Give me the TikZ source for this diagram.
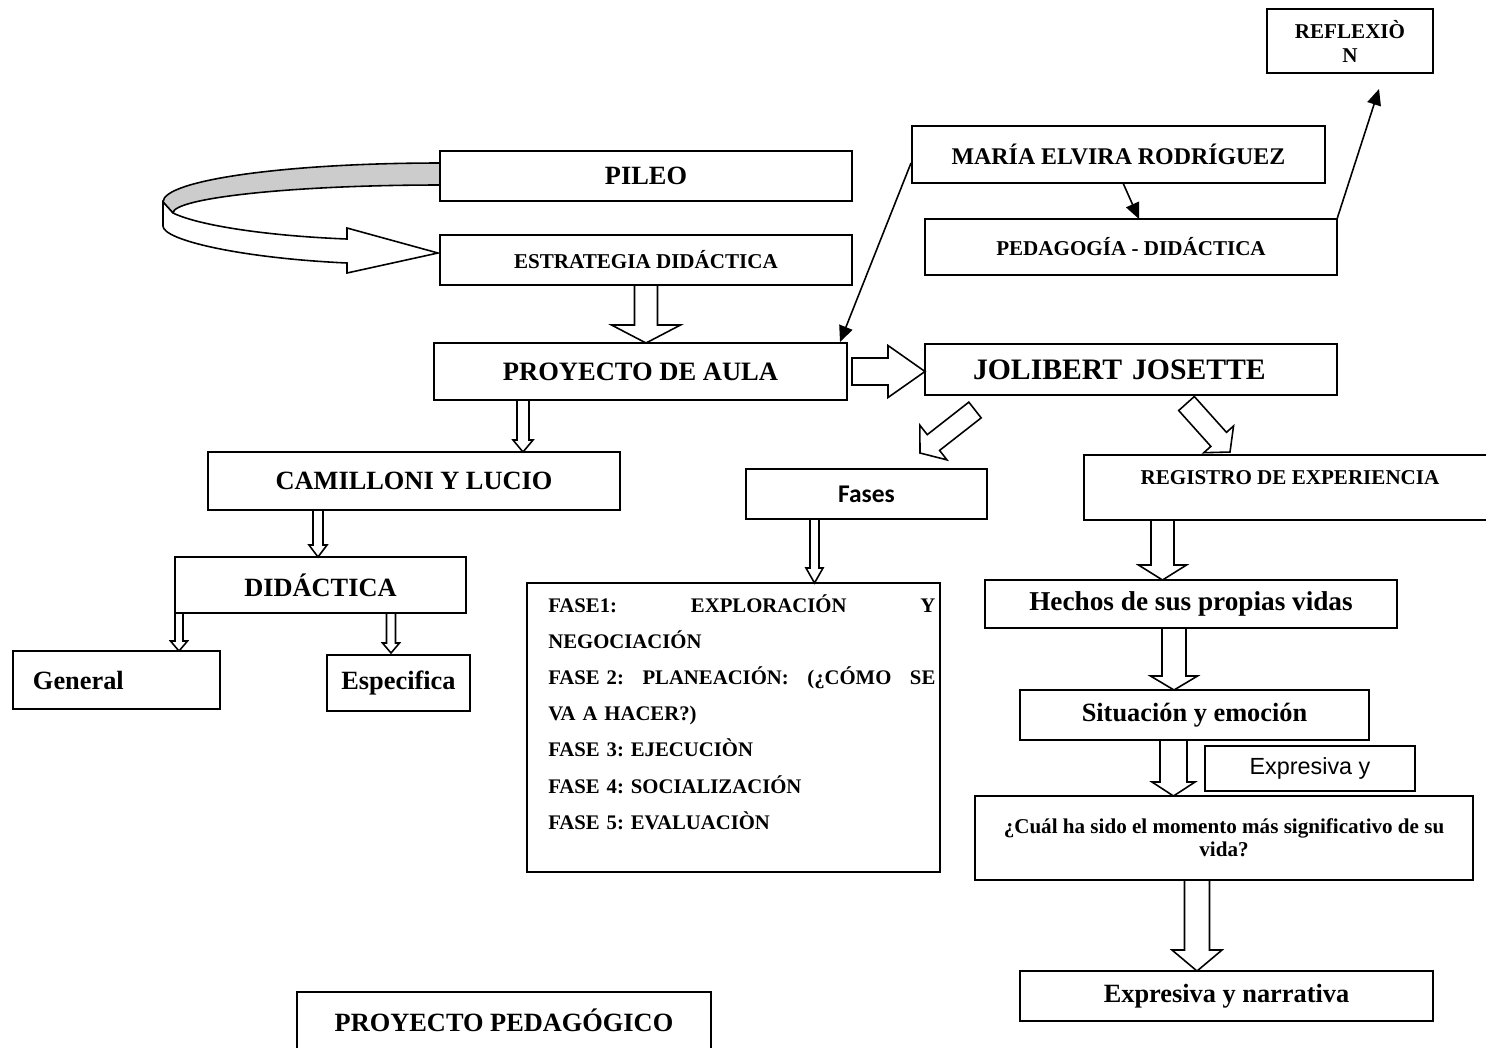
\documentclass[tikz,border=0pt]{standalone}
\usepackage{fontspec}
\setmainfont{Liberation Serif}
\newfontfamily\calfont{Carlito}
\newfontfamily\arialfont{Liberation Sans}
\usetikzlibrary{arrows.meta,calc}
\frenchspacing
\newcommand{\fsz}[2]{\fontsize{#1}{#2}\selectfont\bfseries}
\tikzset{
  box/.style={draw,line width=0.9pt,inner sep=0pt,outer sep=0pt,align=center},
  link/.style={-{Triangle[length=3.2mm,width=2.8mm]},line width=0.9pt},
  blk/.style n args={3}{line width=0.9pt,fill=white,
    to path={let \p1=(\tikztostart),\p2=(\tikztotarget),\p3=($(\p2)!#3!(\p1)$) in
      ($(\p1)!#1!90:(\p2)$) -- ($(\p3)!#1!90:(\p2)$) -- ($(\p3)!#2!90:(\p2)$) -- (\p2)
      -- ($(\p3)!#2!-90:(\p2)$) -- ($(\p3)!#1!-90:(\p2)$) -- ($(\p1)!#1!-90:(\p2)$) -- cycle}}
}
\begin{document}
\begin{tikzpicture}[x=0.2mm,y=-0.2mm]
  \useasboundingbox (0,0) rectangle (1486,1047);
  % top row
  \node[box,minimum width=33.2mm,minimum height=12.8mm,font=\fsz{12}{13.6}] (refl) at (1350,41) {REFLEXIÒ\\N};
  \node[box,minimum width=82.4mm,minimum height=10mm,font=\fsz{15}{17}] (pileo) at (646,176) {PILEO};
  \node[box,minimum width=82.4mm,minimum height=10mm,font=\fsz{12}{14}] (estr) at (646,260) {ESTRATEGIA DIDÁCTICA};
  \node[box,minimum width=82.6mm,minimum height=11.4mm,font=\fsz{13.6}{16}] (mer) at (1118.5,154.5) {MARÍA ELVIRA RODRÍGUEZ};
  \node[box,minimum width=82.4mm,minimum height=11.2mm,font=\fsz{12}{14}] (ped) at (1131,247) {PEDAGOGÍA - DIDÁCTICA};
  \node[box,minimum width=82.6mm,minimum height=11.4mm,font=\fsz{15.1}{18}] (aula) at (640.5,371.5) {PROYECTO DE AULA};
  \node[box,minimum width=82.4mm,minimum height=10.2mm,text width=63.2mm,align=left,inner xsep=9.6mm,font=\fsz{16.9}{19}] (jol) at (1131,369.5) {JOLIBERT JOSETTE};
  % left branch
  \node[box,minimum width=82.4mm,minimum height=11.6mm,font=\fsz{15}{17}] (cam) at (414,481) {CAMILLONI Y LUCIO};
  \node[box,minimum width=58.2mm,minimum height=11.2mm,font=\fsz{15}{17}] (did) at (320.5,585) {DIDÁCTICA};
  \node[box,minimum width=41.4mm,minimum height=11.6mm,text width=33.4mm,align=left,inner xsep=4mm,font=\fsz{15}{17}] (gen) at (116.5,680) {General};
  \node[box,minimum width=28.6mm,minimum height=11.2mm,font=\fsz{15}{17}] (esp) at (398.5,683) {Especifica};
  \node[box,anchor=north west,minimum width=82.8mm,text height=7.8mm,text depth=5.8mm,font=\fsz{15}{17}] (pped) at (297,992) {PROYECTO PEDAGÓGICO};
  % middle branch
  \node[box,minimum width=48.2mm,minimum height=10mm,font=\calfont\fsz{14.5}{17}] (fases) at (866.5,494) {Fases};
  \node[box,minimum width=82.6mm,minimum height=57.8mm] (fase) at (733.5,727.5) {};
  \node[inner sep=0pt,anchor=base west,text width=77.4mm,align=left,font=\fsz{11.8}{20.6}] (fasetxt) at (548,612)
    {FASE1:\hfill EXPLORACIÓN\hfill Y\\
     NEGOCIACIÓN\\
     FASE 2:\hfill PLANEACIÓN:\hfill (¿CÓMO\hfill SE\\
     VA A HACER?)\\
     FASE 3: EJECUCIÒN\\
     FASE 4: SOCIALIZACIÓN\\
     FASE 5: EVALUACIÒN};
  % right branch
  \node[box,anchor=north west,minimum width=82.4mm,text height=5.8mm,text depth=7.2mm,font=\fsz{12}{14}] (reg) at (1084,455) {REGISTRO DE EXPERIENCIA};
  \node[box,minimum width=82.4mm,minimum height=9.6mm,font=\fsz{15.5}{18}] (hech) at (1191,604) {Hechos de sus propias vidas};
  \node[box,minimum width=69.8mm,minimum height=10mm,font=\fsz{15}{17}] (sit) at (1194.5,715) {Situación y emoción};
  \node[box,minimum width=42mm,minimum height=9mm,font=\arialfont\fontsize{13.3}{15}\selectfont] (expy) at (1310,768.5) {Expresiva y};
  \node[box,minimum width=99.6mm,minimum height=16.8mm,font=\fsz{12}{13}] (cual) at (1224,838) {¿Cuál ha sido el momento más significativo de su\\ vida?};
  \node[box,minimum width=82.6mm,minimum height=10mm,font=\fsz{15}{17}] (expn) at (1226.5,996) {Expresiva y narrativa};

  % curved ribbon arrow PILEO -> ESTRATEGIA
  \draw[line width=0.9pt,fill=black!20] ($(pileo.west)+(0,-13)$) .. controls (287,163) and (163,180) .. (163,202)
    -- (173,213) .. controls (173,198) and (292,185) .. ($(pileo.west)+(0,9)$) -- cycle;
  \draw[line width=0.9pt,fill=white] (163,202) -- (163,226) .. controls (163,240) and (240,258) .. (347,263)
    -- (347,273) -- ($(estr.west)+(-2,-7)$) -- (347,228) -- (347,239)
    .. controls (270,236) and (200,226) .. (173,213) -- cycle;

  % block arrows
  \draw[blk={2.3mm}{6.9mm}{3.6mm}] (estr.south) to (estr.south |- aula.north);
  \draw[blk={2.7mm}{5.2mm}{7.4mm}] ($(aula.east)+(5,0)$) to (aula.east -| jol.west);
  \draw[blk={1.2mm}{2mm}{2.4mm}] ($(aula.south)+(-117.5,0)$) to ($(cam.north)+(109,0)$);
  \draw[blk={1mm}{1.8mm}{2.4mm}] ($(cam.south)+(-96,0)$) to ($(did.north)+(-2.5,0)$);
  \draw[blk={0.8mm}{1.7mm}{2mm}] ($(did.south west)+(4,0)$) to ($(gen.north)+(62.5,0)$);
  \draw[blk={0.9mm}{1.7mm}{2mm}] ($(did.south)+(70.5,0)$) to ($(esp.north)+(-7.5,-2)$);
  \draw[blk={0.9mm}{1.7mm}{3mm}] ($(fases.south)+(-52,0)$) to ($(fase.north)+(81,0)$);
  \draw[blk={2mm}{4.4mm}{3.4mm}] ($(jol.south west)+(50,15)$) to ($(fases.north east)+(-67,-16)$);
  \draw[blk={2.1mm}{4mm}{3.4mm}] ($(jol.south)+(55.5,8.5)$) to ($(reg.north west)+(146,-3)$);
  \draw[blk={2.3mm}{4.8mm}{3mm}] ($(reg.south west)+(78.5,0)$) to ($(hech.north)+(-28.5,0)$);
  \draw[blk={2.4mm}{4.7mm}{2.8mm}] ($(hech.south)+(-17,0)$) to ($(sit.north)+(-20.5,0)$);
  \draw[blk={2.7mm}{4.3mm}{2.8mm}] ($(sit.south)+(-21,0)$) to ($(cual.north)+(-50.5,0)$);
  \draw[blk={2.5mm}{5mm}{4.2mm}] ($(cual.south)+(-27,0)$) to ($(expn.north)+(-29.5,0)$);

  % thin arrows
  \draw[link] ($(mer.west)+(-1,8.5)$) -- ($(aula.north east)+(-7,-1)$);
  \draw[link] ($(mer.south)+(4.5,0)$) -- ($(ped.north)+(8,0)$);
  \draw[link] (ped.north east) -- ($(refl.south)+(29,16)$);
\end{tikzpicture}
\end{document}
